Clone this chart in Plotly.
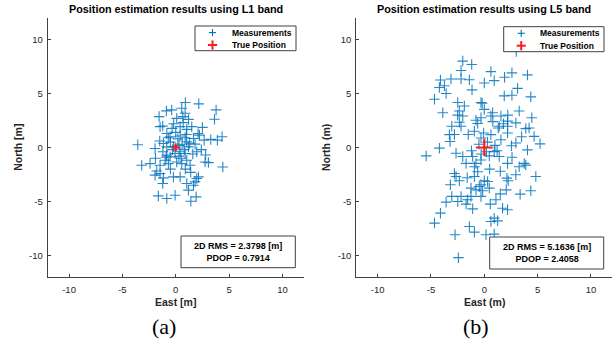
import plotly.graph_objects as go

# ---------------- data ----------------
l1_east = [0.9, 2.16, 3.78, 3.63, -0.88, -0.38, -1.56, 0.56, 0.88, 0.09, 0.66, -1.22, -1.47, 2.5, -0.34,
           0.41, 1.5, 1.03, 2.09, -0.84, -0.53, 0.41, 0.88, 1.66, 2.22, 2.66, 3.28, 3.9, 4.34, -3.56,
           -1.94, -1.16, -0.84, -0.22, 1.03, 1.19, 1.81, -0.06, 0.41, 0.88, 1.97, -0.84, -0.53, -3.19, -2.41,
           -1.47, -1.0, -0.69, 0.09, 0.56, 1.03, 1.34, 2.75, 3.06, 4.41, -1.78, -1.47,
           -1.94, -1.16, -0.22, 0.41, 1.97, 2.13, -1.22, 1.03, 1.66, 1.19, 1.81, -1.63, -0.84, -0.06, 1.41, 1.91,
           -0.5, 0.2, 0.6, -0.3, 0.3, 0.8, -0.7, 1.3, 0.0, -1.2, 0.5, 1.0, -0.2, 0.7, 1.2, -0.9, 0.3, 1.6,
           -1.5, 0.9, -0.5, 1.4, -1.9, 2.4, 2.8]
l1_north = [4.16, 4.04, 3.48, 2.61, 3.39, 3.48, 2.86, 3.63, 3.17, 2.7, 2.86, 1.99, 1.93, 1.86, 1.77,
            1.93, 1.93, 1.68, 1.3, 1.3, 0.99, 1.06, 0.9, 0.84, 1.15, 0.68, 0.75, 0.68, 0.99, 0.25,
            -0.09, 0.37, 0.06, 0.06, 0.53, 0.06, 0.31, -0.56, -0.4, -0.56, -0.4, -0.71, -0.87, -1.65, -1.49,
            -1.65, -1.18, -1.49, -1.34, -1.49, -1.18, -1.65, -1.34, -1.4, -1.8, -2.17, -2.42,
            -2.56, -2.81, -2.72, -2.72, -2.87, -2.72, -3.34, -3.34, -3.49, -3.95, -3.18, -4.48, -4.72, -4.42, -4.97, -4.57,
            0.5, 0.8, 0.3, -0.2, -0.8, -0.2, 0.9, 0.4, 1.4, -0.4, -1.0, 1.2, 2.2, 2.3, 2.6, -0.9, 0.2, -0.6,
            0.6, -2.0, -2.0, -2.3, -1.0, -0.2, -0.7]

l5_east = [-2.02, -1.18, -2.18, 0.62, 1.9, 2.59, 4.05, 3.0, -4.11, -3.12, -3.74, -2.18, -1.4, -4.21, -3.58,
           -4.67, 0.0, 0.93, 3.12, 1.87, 2.59, 4.36, -1.15, -3.89, -2.49, -1.87, -2.34, -2.02, -2.34, -2.18,
           -3.05, -3.27, -3.21, -4.21, -5.45, -0.31, 0.0, 0.62, -0.31, -0.78, -0.62, -0.93, -0.06, 0.78, 1.56,
           1.4, 1.31, 2.18, 2.18, 2.96, 3.27, 3.89, 4.45, 4.67, 5.23, -0.31, 0.62, 1.56, 2.18, 2.55,
           2.96, 4.05, 3.89, 3.74, -2.65, -2.02, -1.71, -1.09, -0.78, -0.31, 0.47, 0.93, 1.4, 2.18, 3.27,
           -0.93, -0.62, -2.8,
           -2.65, -2.34, -0.93, 0.0, 0.31, -0.31, 2.12, 2.24, 2.96, 4.83, -3.18, -1.25, -0.47, -0.16, -0.78,
           0.47, 2.06, 1.5, 4.36, 3.36, -3.05, -2.18, -1.56, -1.25, -3.58, -2.49, -1.09, -1.71, -0.31, 0.56,
           1.09, 1.71, 2.18, -4.11, -4.67, -1.4, -0.93, -2.74, 0.16, 0.93, 0.93, 1.25, 0.62, -2.43,
           0.3, -0.5, 1.0, 0.2, -0.3, 1.2, 0.8, 1.8, -1.5, -1.2, 2.6, 1.5, 0.5, -1.6, 3.5, 2.2, -0.2,
           -2.5, -2.8, 4.2]
l5_north = [8.0, 7.69, 7.13, 7.03, 6.5, 6.91, 6.72, 8.9, 6.25, 6.34, 5.72, 6.34, 6.28, 5.56, 5.0,
            4.47, 5.97, 6.19, 5.47, 4.78, 4.84, 4.69, 5.34, 3.22, 4.16, 3.84, 3.38, 2.91, 2.34, 1.97,
            1.97, 1.19, 0.56, -0.06, -0.78, 4.16, 3.53, 2.91, 2.75, 2.53, 2.22, 1.5, 1.34, 3.22, 2.91,
            1.97, 1.81, 2.44, 1.97, 2.28, 3.38, 1.75, 2.75, 1.03, 0.34, 0.88, 1.19, 0.72, 1.34, 0.16,
            0.41, -0.22, -1.63, -1.47, -0.53, -0.84, -1.47, -0.84, -1.47, -1.16, -0.78, -0.38, -0.84, -1.47, -1.78,
            -1.78, -2.25, -2.41,
            -2.68, -3.08, -2.68, -3.08, -3.15, -3.45, -2.84, -3.08, -2.53, -2.68, -3.45, -3.76, -3.61, -4.01, -3.92,
            -3.76, -3.92, -4.29, -4.01, -4.32, -4.53, -4.53, -4.84, -4.53, -5.06, -5.0, -5.68, -5.24, -4.53, -5.24,
            -4.84, -5.62, -5.77, -6.08, -7.0, -7.31, -7.84, -8.08, -8.08, -8.02, -6.54, -6.79, -6.85, -10.2,
            0.5, 0.3, 0.2, -0.4, -0.6, -0.3, 2.4, 2.2, 1.2, -0.3, -0.9, -2.2, -2.0, -2.8, 1.0, 3.0, 4.1,
            3.0, 1.2, 1.8]

true_east = [0.0]
true_north = [0.0]

tick_vals = [-10, -5, 0, 5, 10]
tick_text = ["-10", "-5", "0", "5", "10"]
axis_range = [-12, 12]

titles = ["Position estimation results using L1 band", "Position estimation results using L5 band"]
x_labels = ["East [m]", "East (m)"]
y_labels = ["North [m]", "North (m)"]
panel_labels = ["(a)", "(b)"]
rms_values = ["2.3798", "5.1636"]
pdop_values = ["0.7914", "2.4058"]
legend_names = ["Measurements", "True Position"]

# ---------------- styling ----------------
W, H = 614, 349
BLUE = "#0072BD"
RED = "#FF1A1A"
DARK = "#262626"
FONT = "Liberation Sans, Arial, sans-serif"


def px(x):
    return x / W


def py(y):
    return 1 - y / H


fig = go.Figure()

# measurement and true position scatter
fig.add_trace(go.Scatter(x=l1_east, y=l1_north, mode="markers", xaxis="x", yaxis="y",
                         marker=dict(symbol="cross-thin-open", size=7.5, color=BLUE, opacity=0.85,
                                     line=dict(width=1.1, color=BLUE)),
                         showlegend=False, name=legend_names[0]))
fig.add_trace(go.Scatter(x=true_east, y=true_north, mode="markers", xaxis="x", yaxis="y",
                         marker=dict(symbol="cross-thin-open", size=6, color=RED,
                                     line=dict(width=2, color=RED)),
                         showlegend=False, name=legend_names[1]))
fig.add_trace(go.Scatter(x=l5_east, y=l5_north, mode="markers", xaxis="x2", yaxis="y2",
                         marker=dict(symbol="cross-thin-open", size=7.5, color=BLUE, opacity=0.85,
                                     line=dict(width=1.1, color=BLUE)),
                         showlegend=False, name=legend_names[0]))
fig.add_trace(go.Scatter(x=true_east, y=true_north, mode="markers", xaxis="x2", yaxis="y2",
                         marker=dict(symbol="cross-thin-open", size=12, color=RED,
                                     line=dict(width=2.2, color=RED)),
                         showlegend=False, name=legend_names[1]))

xdom = [[47.7 / W, 303.8 / W], [356.3 / W, 612.3 / W]]
ydom = [py(277.1), py(17.9)]

axis_common = dict(range=axis_range, tickmode="array", tickvals=tick_vals, ticktext=tick_text,
                   showgrid=False, zeroline=False, showline=True, linecolor="#404040", linewidth=1,
                   ticks="inside", ticklen=3, tickcolor="#404040", mirror=False,
                   tickfont=dict(family=FONT, size=9.5, color=DARK), fixedrange=True)

fig.update_layout(
    width=W, height=H, margin=dict(l=0, r=0, t=0, b=0),
    paper_bgcolor="white", plot_bgcolor="white", showlegend=False,
    xaxis=dict(domain=xdom[0], anchor="y", ticklabelstandoff=3, **axis_common),
    yaxis=dict(domain=ydom, anchor="x", ticklabelstandoff=2, **axis_common),
    xaxis2=dict(domain=xdom[1], anchor="y2", ticklabelstandoff=3, **axis_common),
    yaxis2=dict(domain=ydom, anchor="x2", ticklabelstandoff=2, **axis_common),
)

shapes = []
annotations = []

centers_x = [175.7, 484.3]
legend_boxes = [(195, 26, 296, 50.7), (503.7, 26.7, 604, 51.7)]
rms_boxes = [(181, 236, 295.3, 267.7), (489.7, 237, 603.7, 269)]
ylab_x = [18.3, 326.5]

for i in range(2):
    cx = centers_x[i]
    # title
    annotations.append(dict(x=px(cx), y=py(8.6), xref="paper", yref="paper", text="<b>%s</b>" % titles[i],
                            showarrow=False, xanchor="center", yanchor="middle",
                            font=dict(family=FONT, size=10.8, color="black")))
    # axis labels
    annotations.append(dict(x=px(cx), y=py(301.7), xref="paper", yref="paper", text="<b>%s</b>" % x_labels[i],
                            showarrow=False, xanchor="center", yanchor="middle",
                            font=dict(family=FONT, size=10.5, color=DARK)))
    annotations.append(dict(x=px(ylab_x[i]), y=py(147.5), xref="paper", yref="paper",
                            text="<b>%s</b>" % y_labels[i], textangle=-90,
                            showarrow=False, xanchor="center", yanchor="middle",
                            font=dict(family=FONT, size=10.5, color=DARK)))
    # panel label
    annotations.append(dict(x=px([163.5, 475.5][i]), y=py(326), xref="paper", yref="paper",
                            text=panel_labels[i], showarrow=False, xanchor="center", yanchor="middle",
                            font=dict(family="Liberation Serif, DejaVu Serif, serif", size=22, color="black")))
    # legend box
    x0, y0, x1, y1 = legend_boxes[i]
    shapes.append(dict(type="rect", xref="paper", yref="paper", x0=px(x0), y0=py(y1), x1=px(x1), y1=py(y0),
                       line=dict(color="#404040", width=1), fillcolor="white", layer="above"))
    mx = x0 + 17.5
    ya = y0 + 6.6
    yb = y0 + 19
    for (cyy, hs, col, lw) in [(ya, 3.6, BLUE, 1.1), (yb, 4.6, RED, 2)]:
        shapes.append(dict(type="line", xref="paper", yref="paper", x0=px(mx - hs), x1=px(mx + hs),
                           y0=py(cyy), y1=py(cyy), line=dict(color=col, width=lw), layer="above"))
        shapes.append(dict(type="line", xref="paper", yref="paper", x0=px(mx), x1=px(mx),
                           y0=py(cyy - hs), y1=py(cyy + hs), line=dict(color=col, width=lw), layer="above"))
    for (cyy, name) in [(ya, legend_names[0]), (yb, legend_names[1])]:
        annotations.append(dict(x=px(x0 + 34.5), y=py(cyy), xref="paper", yref="paper",
                                text="<b>%s</b>" % name, showarrow=False, xanchor="left", yanchor="middle",
                                font=dict(family=FONT, size=8.5, color="black")))
    # RMS / PDOP box
    bx0, by0, bx1, by1 = rms_boxes[i]
    shapes.append(dict(type="rect", xref="paper", yref="paper", x0=px(bx0), y0=py(by1), x1=px(bx1), y1=py(by0),
                       line=dict(color="#404040", width=1), fillcolor="white", layer="above"))
    annotations.append(dict(x=px((bx0 + bx1) / 2), y=py((by0 + by1) / 2), xref="paper", yref="paper",
                            text="<b>2D RMS = %s [m]</b><br><b>PDOP = %s</b>" % (rms_values[i], pdop_values[i]),
                            showarrow=False, xanchor="center", yanchor="middle", align="center",
                            font=dict(family=FONT, size=9, color="black")))

fig.update_layout(shapes=shapes, annotations=annotations)

fig.write_html("out.html", config={"displayModeBar": False},
               post_script="document.body.style.margin='0px';document.body.style.padding='0px';")
